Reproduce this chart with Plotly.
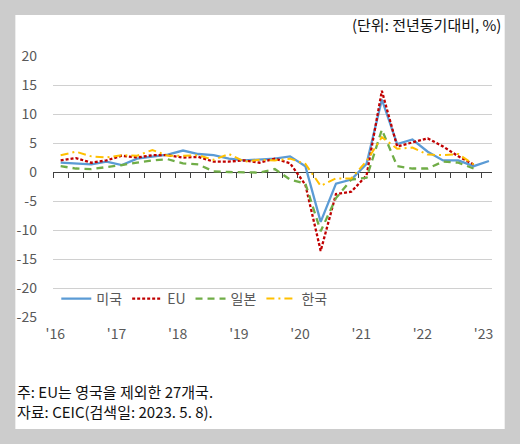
import plotly.graph_objects as go

quarters = [f"{y}Q{q}" for y in range(2016, 2023) for q in range(1, 5)] + ["2023Q1"]

us = [1.6, 1.4, 1.3, 1.8, 1.2, 2.3, 2.6, 3.0, 3.7, 3.1, 2.9, 2.3, 2.0, 2.2, 2.3, 2.7,
      1.0, -8.6, -2.0, -1.3, 1.4, 12.5, 4.8, 5.6, 3.5, 2.0, 2.0, 1.0, 1.9]
eu = [2.0, 2.4, 1.6, 2.0, 2.8, 2.5, 2.9, 2.9, 2.5, 2.6, 1.8, 1.8, 2.0, 1.6, 2.3, 1.5,
      -2.2, -13.6, -3.8, -3.4, -0.6, 14.0, 4.4, 5.1, 5.8, 4.4, 2.7, 1.3]
jp = [1.0, 0.6, 0.5, 0.8, 1.2, 1.6, 2.0, 2.2, 1.5, 1.3, 0.1, 0.0, -0.1, -0.1, 0.5, -1.3,
      -2.0, -10.2, -4.5, -1.3, -1.0, 7.3, 1.0, 0.6, 0.6, 1.8, 1.6, 0.6]
kr = [2.9, 3.5, 2.7, 2.5, 2.9, 2.8, 3.8, 2.8, 2.8, 2.9, 2.1, 3.1, 1.8, 2.1, 2.0, 2.3,
      1.4, -2.4, -1.1, -1.1, 1.9, 6.0, 4.0, 4.2, 3.0, 2.9, 3.1, 1.3]

year_labels = ["'16", "'17", "'18", "'19", "'20", "'21", "'22", "'23"]
y_ticks = [20, 15, 10, 5, 0, -5, -10, -15, -20, -25]

FONT = "Noto Sans CJK KR"
GRAY = "#595959"

idx = list(range(len(quarters)))

fig = go.Figure()
series = [
    ("미국", us, dict(color="#5b9bd5", width=2.3, dash="solid")),
    ("EU", eu, dict(color="#c00000", width=2.3, dash="3px,2px")),
    ("일본", jp, dict(color="#70ad47", width=2.3, dash="7px,5px")),
    ("한국", kr, dict(color="#ffc000", width=2.0, dash="8px,4px,2px,4px")),
]
for name, vals, line in series:
    fig.add_trace(go.Scatter(x=idx[:len(vals)], y=vals, name=name, mode="lines", line=line))

L, R, T, B = 52.7, 27.7, 56, 127
W, H = 520, 444
pw, ph = W - L - R, H - T - B

def px_x(x):
    return (x - L) / pw

def px_y(y):
    return (H - B - y) / ph

fig.add_shape(type="rect", xref="paper", yref="paper",
              x0=px_x(15), x1=px_x(505), y0=px_y(429), y1=px_y(15),
              fillcolor="white", line=dict(width=0), layer="below")

xr = [-0.5, 28.2]
fig.update_layout(
    width=W, height=H,
    margin=dict(l=L, r=R, t=T, b=B),
    paper_bgcolor="#cccccc",
    plot_bgcolor="rgba(0,0,0,0)",
    font=dict(family=FONT, size=14, color=GRAY),
    showlegend=True,
    legend=dict(orientation="h", x=px_x(56), xanchor="left", y=px_y(299), yanchor="middle",
                bgcolor="rgba(0,0,0,0)", font=dict(size=14, color=GRAY),
                itemwidth=30, tracegroupgap=0),
    xaxis=dict(range=xr, anchor="free", position=25 / 45, showgrid=False,
               showline=True, linecolor="#404040", linewidth=1,
               ticks="outside", ticklen=5, tickcolor="#404040",
               tickvals=[k - 0.5 for k in range(29)], showticklabels=False,
               layer="below traces", zeroline=False),
    xaxis2=dict(range=xr, overlaying="x", anchor="y", side="bottom", showgrid=False,
                showline=False, ticks="", zeroline=False, ticklabelstandoff=7,
                tickvals=[4 * k - 0.35 for k in range(len(year_labels))], ticktext=year_labels,
                tickfont=dict(size=14, color=GRAY)),
    yaxis=dict(range=[-25, 20], tickvals=y_ticks, ticktext=[str(v) for v in y_ticks],
               showgrid=True, gridcolor="#d0d0d0", gridwidth=1, zeroline=False,
               showline=False, ticks="", ticklabelstandoff=15,
               tickfont=dict(size=14, color=GRAY)),
)
fig.add_trace(go.Scatter(x=[0], y=[0], xaxis="x2", mode="none", showlegend=False, hoverinfo="skip"))

fig.add_annotation(text="(단위: 전년동기대비, %)", xref="paper", yref="paper",
                   x=px_x(503), y=px_y(24), xanchor="right", yanchor="middle",
                   showarrow=False, font=dict(size=15, color="#111111", family=FONT))
fig.add_annotation(text="주: EU는 영국을 제외한 27개국.<br>자료: CEIC(검색일: 2023. 5. 8).",
                   xref="paper", yref="paper", align="left",
                   x=px_x(15), y=px_y(401), xanchor="left", yanchor="middle",
                   showarrow=False, font=dict(size=15, color="#111111", family=FONT))

fig.write_html("out.html")
